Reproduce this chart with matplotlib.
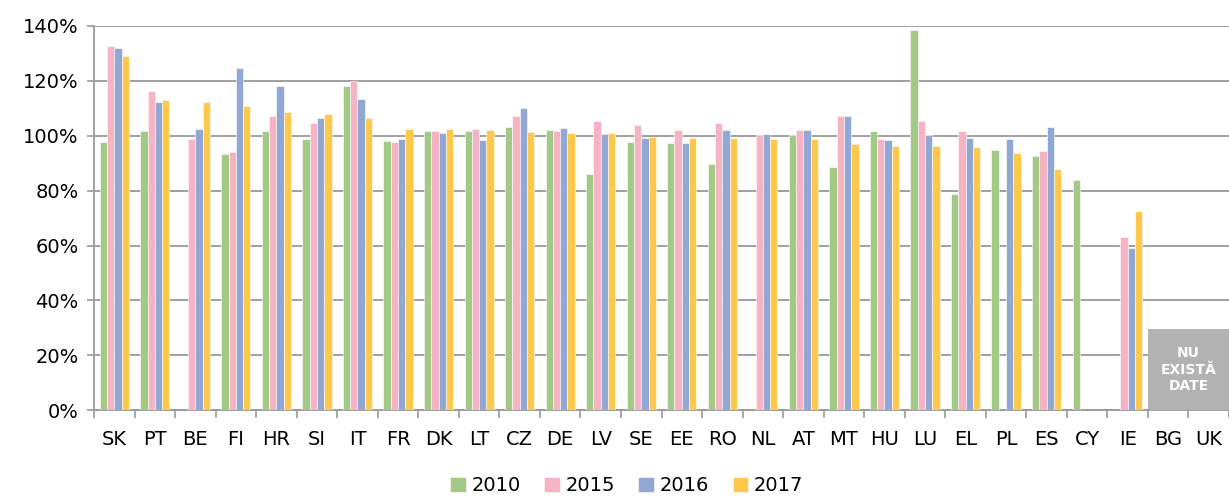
import numpy as np
import matplotlib.pyplot as plt
from matplotlib.patches import Rectangle

countries = ["SK", "PT", "BE", "FI", "HR", "SI", "IT", "FR", "DK", "LT", "CZ", "DE", "LV", "SE",
             "EE", "RO", "NL", "AT", "MT", "HU", "LU", "EL", "PL", "ES", "CY", "IE", "BG", "UK"]
nan = np.nan
v2010 = [97.6, 101.7, nan, 93.2, 101.7, 98.8, 118.1, 98.2, 101.8, 101.7, 103.2, 102.1, 86.0, 97.7,
         97.5, 89.7, nan, 100.1, 88.6, 101.6, 138.5, 78.7, 94.9, 92.6, 83.9, nan, nan, nan]
v2015 = [132.8, 116.3, 98.8, 94.1, 107.1, 104.6, 119.9, 97.6, 101.8, 102.4, 107.2, 101.8, 105.4, 103.8,
         102.1, 104.6, 100.3, 102.1, 107.2, 98.8, 105.4, 101.6, nan, 94.5, nan, 63.1, nan, nan]
v2016 = [131.9, 112.2, 102.4, 124.7, 118.1, 106.3, 113.3, 98.9, 101.1, 98.3, 110.0, 102.7, 100.7, 99.2,
         97.5, 102.0, 100.6, 102.0, 107.2, 98.3, 100.1, 99.0, 98.8, 103.1, nan, 59.1, nan, nan]
v2017 = [129.2, 113.0, 112.3, 110.7, 108.6, 107.8, 106.3, 102.4, 102.3, 102.1, 101.3, 101.1, 101.0, 99.6,
         99.2, 99.2, 98.9, 98.8, 97.0, 96.4, 96.2, 96.0, 93.8, 87.7, nan, 72.5, nan, nan]
years = ["2010", "2015", "2016", "2017"]
colors = ["#A2C985", "#F5B3C4", "#90A8D3", "#FEC84D"]

fig = plt.figure(figsize=(12.29, 4.99), dpi=100)
ax = fig.add_axes([0.0765, 0.178, 0.9235, 0.770])

x = np.arange(len(countries))
w = 0.18
series = [v2010, v2015, v2016, v2017]
for i, (vals, c, lab) in enumerate(zip(series, colors, years)):
    ax.bar(x + (i - 1.5) * w, np.array(vals) / 100, width=w, color=c, label=lab,
           edgecolor="white", linewidth=0.4, zorder=3)

ax.set_xlim(-0.5, len(countries) - 0.5)
ax.set_ylim(0, 1.4)
ax.set_yticks(np.arange(0, 1.41, 0.2))
ax.set_yticklabels([f"{int(round(t * 100))}%" for t in np.arange(0, 1.41, 0.2)])
ax.yaxis.grid(True, color="#999999", linewidth=1.3, zorder=0)
ax.set_axisbelow(True)

ax.set_xticks(x)
ax.set_xticklabels(countries)
ax.set_xticks(np.arange(-0.5, len(countries), 1), minor=True)
ax.tick_params(axis="x", which="major", length=0, pad=14, labelsize=14)
ax.tick_params(axis="x", which="minor", length=6, color="#999999", width=1.2)
ax.tick_params(axis="y", length=5, color="#999999", width=1.2, labelsize=14, pad=6)

for s in ["top", "right"]:
    ax.spines[s].set_visible(False)
for s in ["left", "bottom"]:
    ax.spines[s].set_color("#999999")
    ax.spines[s].set_linewidth(1.3)

# BG and UK: no data
ax.add_patch(Rectangle((25.5, 0), 2.0, 0.295, facecolor="#B2B2B2", edgecolor="none",
                       zorder=4, clip_on=False))
ax.text(26.5, 0.1475, "NU\nEXISTĂ\nDATE", color="white", fontweight="bold", fontsize=10,
        ha="center", va="center", linespacing=1.2, zorder=5)

handles, labels = ax.get_legend_handles_labels()
fig.legend(handles, labels, loc="lower center", bbox_to_anchor=(0.51, 0.0), ncol=4,
           frameon=False, fontsize=14, handlelength=0.8, handleheight=0.8,
           handletextpad=0.3, columnspacing=1.2, borderaxespad=0.1, borderpad=0.1)

fig.savefig("out.png", dpi=100)
